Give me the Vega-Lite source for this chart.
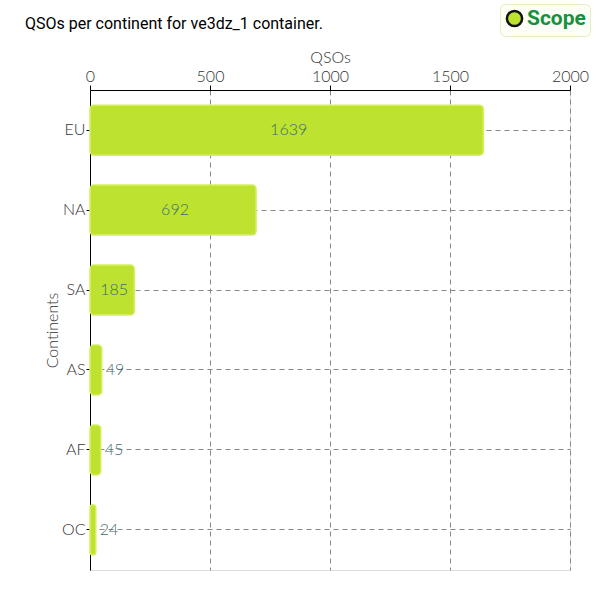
{
  "$schema": "https://vega.github.io/schema/vega-lite/v6.json",
  "autosize": {"type": "none"},
  "width": 480,
  "height": 480,
  "padding": {"left": 90, "top": 90, "right": 30, "bottom": 30},
  "background": "white",
  "title": {
    "text": "QSOs per continent for ve3dz_1 container.",
    "anchor": "start",
    "frame": "group",
    "dx": -65,
    "dy": 50,
    "offset": 22,
    "font": "Roboto",
    "fontSize": 16,
    "fontWeight": "normal",
    "color": "#000"
  },
  "data": {
    "values": [
      {"continent": "EU", "QSOs": 1639},
      {"continent": "NA", "QSOs": 692},
      {"continent": "SA", "QSOs": 185},
      {"continent": "AS", "QSOs": 49},
      {"continent": "AF", "QSOs": 45},
      {"continent": "OC", "QSOs": 24}
    ]
  },
  "encoding": {
    "y": {
      "field": "continent",
      "type": "nominal",
      "sort": ["EU", "NA", "SA", "AS", "AF", "OC"],
      "scale": {"paddingInner": 0.375, "paddingOuter": 0.19},
      "axis": {
        "title": "Continents",
        "bandPosition": 0.5,
        "domainColor": "#000",
        "tickColor": "#000",
        "tickSize": 4,
        "labelFont": "Lato",
        "labelFontWeight": 300,
        "labelFontSize": 16,
        "labelColor": "#333",
        "labelPadding": 1,
        "titleFont": "Lato",
        "titleFontWeight": 300,
        "titleFontSize": 16,
        "titleColor": "#333",
        "titlePadding": 1,
        "grid": true,
        "gridColor": "#888",
        "gridDash": [5, 4],
        "gridWidth": 1
      }
    }
  },
  "layer": [
    {
      "mark": {"type": "bar", "cornerRadius": 4, "stroke": "#d5ee5c", "strokeWidth": 1.5},
      "encoding": {
        "x": {
          "field": "QSOs",
          "type": "quantitative",
          "scale": {"domain": [0, 2000]},
          "axis": {
            "orient": "top",
            "title": "QSOs",
            "values": [0, 500, 1000, 1500, 2000],
            "format": "d",
            "labelFlush": false,
            "domainColor": "#000",
            "tickColor": "#000",
            "tickSize": 5,
            "labelFont": "Lato",
            "labelFontWeight": 300,
            "labelFontSize": 16,
            "labelColor": "#333",
            "labelPadding": 1,
            "titleFont": "Lato",
            "titleFontWeight": 300,
            "titleFontSize": 16,
            "titleColor": "#333",
            "titlePadding": 3,
            "grid": true,
            "gridColor": "#888",
            "gridDash": [5, 4],
            "gridWidth": 1
          }
        },
        "color": {
          "datum": "QScope.org",
          "scale": {"range": ["#bde22f"]},
          "legend": {
            "title": null,
            "orient": "none",
            "legendX": 410,
            "legendY": -86,
            "symbolType": "circle",
            "symbolSize": 230,
            "symbolStrokeColor": "#111",
            "symbolStrokeWidth": 2.5,
            "symbolOpacity": 1,
            "labelExpr": "'Scope'",
            "labelFont": "Roboto",
            "labelFontSize": 21,
            "labelFontWeight": "bold",
            "labelColor": "#17913f",
            "labelOffset": 2,
            "strokeColor": "#e5eec0",
            "fillColor": "#fdfef6",
            "cornerRadius": 5,
            "padding": 4,
            "encode": {
              "symbols": {
                "update": {"stroke": {"value": "#111"}, "strokeWidth": {"value": 2.5}, "opacity": {"value": 1}}
              }
            }
          }
        }
      }
    },
    {
      "transform": [
        {"filter": "datum.QSOs >= 100"},
        {"calculate": "datum.QSOs / 2", "as": "labelPos"}
      ],
      "mark": {"type": "text", "align": "center", "baseline": "middle", "font": "Lato", "fontWeight": 300, "fontSize": 16, "color": "#3f6b6b", "dx": 2},
      "encoding": {
        "x": {"field": "labelPos", "type": "quantitative"},
        "text": {"field": "QSOs", "type": "quantitative"}
      }
    },
    {
      "transform": [{"filter": "datum.QSOs < 100"}],
      "mark": {"type": "text", "align": "left", "baseline": "middle", "dx": 4, "font": "Lato", "fontWeight": 300, "fontSize": 16, "color": "#3f6b6b"},
      "encoding": {
        "x": {"field": "QSOs", "type": "quantitative"},
        "text": {"field": "QSOs", "type": "quantitative"}
      }
    }
  ]
}
